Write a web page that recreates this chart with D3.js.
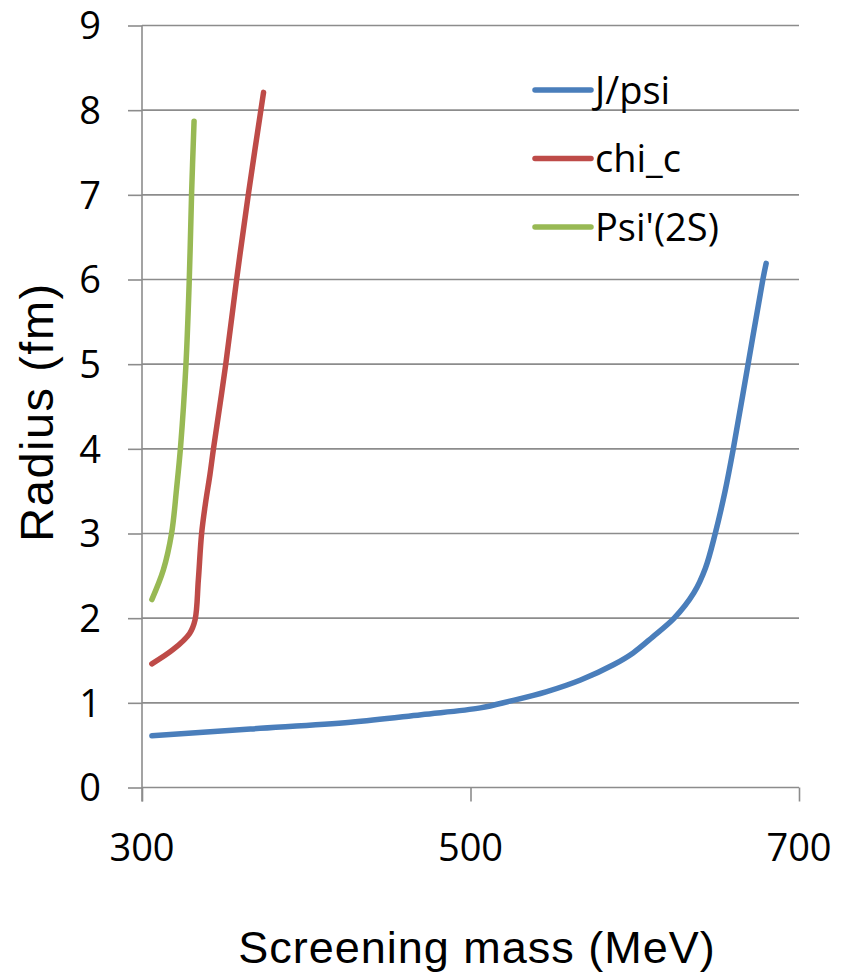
<!DOCTYPE html>
<html>
<head>
<meta charset="utf-8">
<script src="https://cdn.jsdelivr.net/npm/d3@7"></script>
<style>
  html, body { margin: 0; padding: 0; background: #fff; }
  svg { display: block; font-family: "Open Sans", "Noto Sans", sans-serif; }
  .axis-title { font-family: "Liberation Sans", Arial, sans-serif; }
</style>
</head>
<body>
<svg id="chart" width="850" height="974"></svg>
<script>
// Radius of charmonium states versus screening mass
const seriesNames = ["J/psi", "chi_c", "Psi'(2S)"];
const seriesColors = ["#4a7ebb", "#be4b48", "#98b954"];

const jpsiMass   = [306, 366, 427, 470, 506, 524, 546, 567, 587, 599, 611, 624, 636, 643, 649, 655, 660, 669, 678, 680];
const jpsiRadius = [0.61, 0.69, 0.77, 0.86, 0.94, 1.02, 1.13, 1.27, 1.45, 1.59, 1.78, 2.0, 2.3, 2.59, 3.0, 3.5, 4.0, 5.0, 6.0, 6.19];

const chiMass    = [306, 319, 329, 332.3, 334.3, 336.3, 338.6, 341.4, 343.5, 351, 357.6, 364.7, 374];
const chiRadius  = [1.46, 1.63, 1.82, 1.98, 2.45, 3.0, 3.35, 3.7, 4.0, 5.0, 6.0, 7.0, 8.21];

const psi2sMass   = [306, 313, 318, 321, 323.5, 326.8, 328.8, 330.2, 331.7];
const psi2sRadius = [2.22, 2.57, 3.0, 3.52, 4.03, 5.01, 6.01, 7.02, 7.87];

const xTicks = [300, 500, 700];
const yTicks = [0, 1, 2, 3, 4, 5, 6, 7, 8, 9];

const series = [
  { name: seriesNames[0], color: seriesColors[0], pts: d3.zip(jpsiMass, jpsiRadius) },
  { name: seriesNames[1], color: seriesColors[1], pts: d3.zip(chiMass, chiRadius) },
  { name: seriesNames[2], color: seriesColors[2], pts: d3.zip(psi2sMass, psi2sRadius) }
];

const svg = d3.select("#chart");
const plotLeft = 142, plotRight = 799, plotTop = 25.5, plotBottom = 787.5;

const x = d3.scaleLinear().domain([300, 700]).range([plotLeft, plotRight]);
const y = d3.scaleLinear().domain([0, 9]).range([plotBottom, plotTop]);

const gridColor = "#8c8c8c";
const fontSize = 38;

// left tick stubs
svg.append("g")
  .attr("transform", `translate(${plotLeft},0)`)
  .call(d3.axisLeft(y).tickValues(yTicks).tickSize(14).tickFormat(""))
  .call(g => g.select(".domain").remove())
  .call(g => g.selectAll(".tick line").attr("stroke", gridColor).attr("stroke-width", 1.6));

// horizontal gridlines
svg.append("g")
  .selectAll("line").data(yTicks).join("line")
  .attr("x1", plotLeft).attr("x2", plotRight)
  .attr("y1", d => y(d)).attr("y2", d => y(d))
  .attr("stroke", gridColor).attr("stroke-width", 1.6);

// y tick labels
svg.append("g")
  .selectAll("text").data(yTicks).join("text")
  .attr("x", 101).attr("y", d => y(d))
  .attr("dy", "0.36em")
  .attr("text-anchor", "end")
  .attr("font-size", fontSize)
  .attr("fill", "#000")
  .text(d => d);

// vertical axis line
svg.append("line")
  .attr("x1", plotLeft).attr("x2", plotLeft)
  .attr("y1", plotTop).attr("y2", plotBottom + 14)
  .attr("stroke", gridColor).attr("stroke-width", 1.6);

// x axis ticks
svg.append("g")
  .attr("transform", `translate(0,${plotBottom})`)
  .call(d3.axisBottom(x).tickValues(xTicks).tickSize(14).tickFormat(""))
  .call(g => g.select(".domain").remove())
  .call(g => g.selectAll(".tick line").attr("stroke", gridColor).attr("stroke-width", 1.6));

// x tick labels
svg.append("g")
  .selectAll("text").data(xTicks).join("text")
  .attr("x", d => x(d)).attr("y", 861)
  .attr("text-anchor", "middle")
  .attr("font-size", fontSize)
  .attr("fill", "#000")
  .text(d => d);

// series lines
const line = d3.line()
  .x(d => x(d[0]))
  .y(d => y(d[1]))
  .curve(d3.curveCatmullRom.alpha(0.5));

svg.append("g")
  .selectAll("path").data(series).join("path")
  .attr("d", d => line(d.pts))
  .attr("fill", "none")
  .attr("stroke", d => d.color)
  .attr("stroke-width", 5.5)
  .attr("stroke-linecap", "round")
  .attr("stroke-linejoin", "round");

// legend
const legend = svg.append("g")
  .selectAll("g").data(series).join("g")
  .attr("transform", (d, i) => `translate(535,${90 + i * 68.5})`);
legend.append("line")
  .attr("x1", 0).attr("x2", 56)
  .attr("stroke", d => d.color)
  .attr("stroke-width", 5.5)
  .attr("stroke-linecap", "round");
legend.append("text")
  .attr("x", 60).attr("dy", "0.36em")
  .attr("font-size", fontSize)
  .attr("fill", "#000")
  .text(d => d.name);

// axis titles
svg.append("text")
  .attr("class", "axis-title")
  .attr("transform", `translate(53,412) rotate(-90)`)
  .attr("text-anchor", "middle")
  .attr("font-size", 47)
  .attr("letter-spacing", 1.5)
  .attr("fill", "#000")
  .text("Radius (fm)");

svg.append("text")
  .attr("class", "axis-title")
  .attr("x", 477).attr("y", 963)
  .attr("text-anchor", "middle")
  .attr("font-size", 45)
  .attr("letter-spacing", 1)
  .attr("fill", "#000")
  .text("Screening mass (MeV)");
</script>
</body>
</html>
